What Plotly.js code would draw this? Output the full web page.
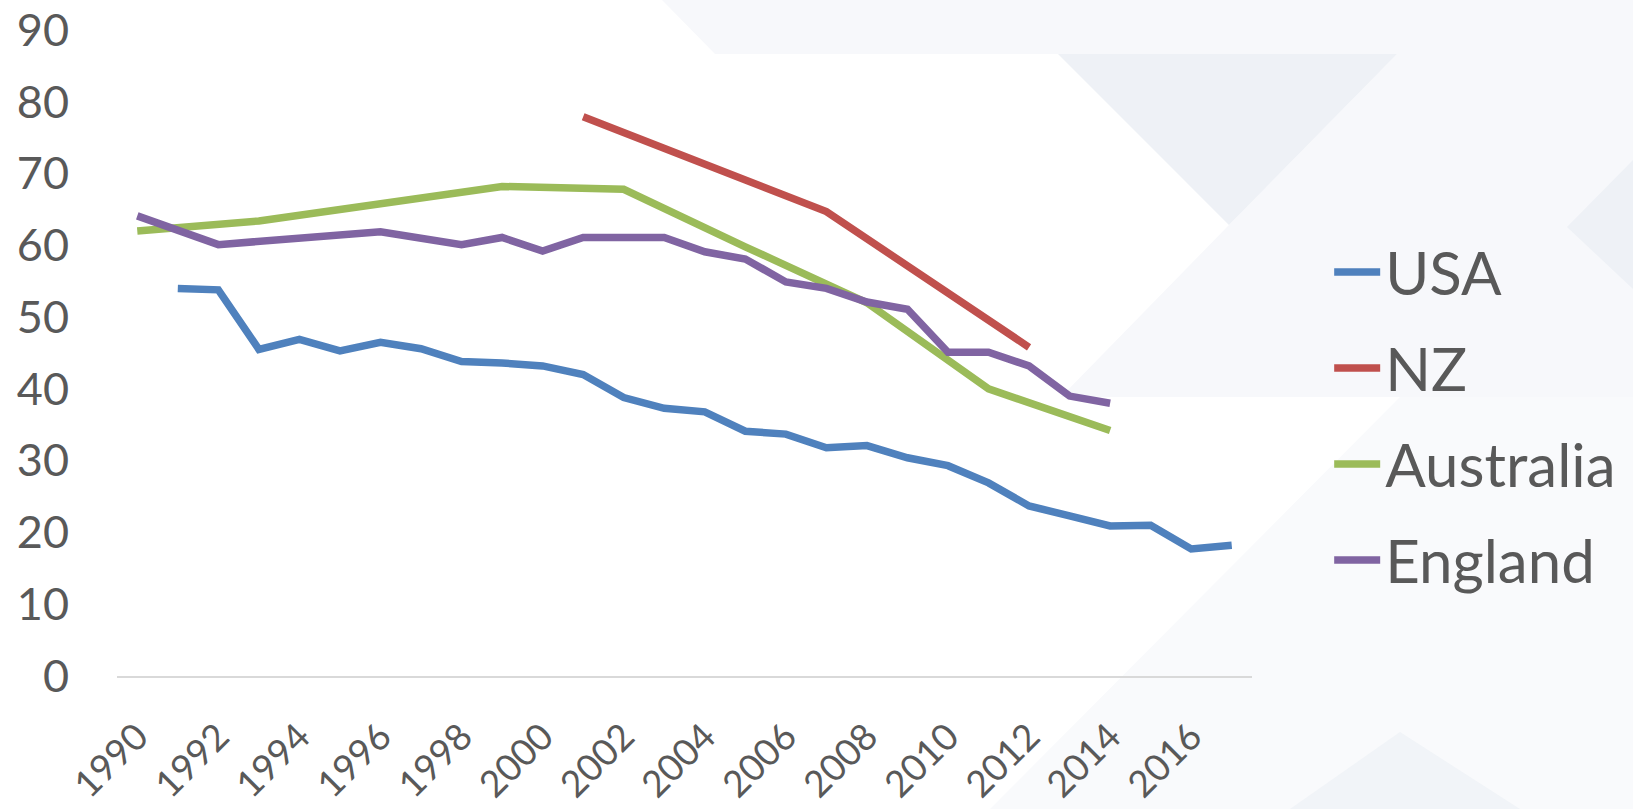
<!DOCTYPE html>
<html>
<head>
<meta charset="utf-8">
<script src="https://cdn.plot.ly/plotly-3.0.1.min.js"></script>
<style>
  html, body { margin: 0; padding: 0; background: #ffffff; }
  #chart { width: 1633px; height: 809px; }
</style>
</head>
<body>
<div id="chart"></div>
<script>
// ---- Data ----
const usaYears = [1991,1992,1993,1994,1995,1996,1997,1998,1999,2000,2001,2002,2003,2004,2005,2006,2007,2008,2009,2010,2011,2012,2013,2014,2015,2016,2017];
const usaValues = [54.0,53.8,45.5,46.9,45.3,46.5,45.6,43.8,43.6,43.2,42.0,38.8,37.3,36.8,34.1,33.7,31.8,32.1,30.4,29.3,26.9,23.7,22.3,20.9,21.0,17.7,18.2];

const nzYears = [2001,2007,2012];
const nzValues = [77.9,64.7,45.8];

const ausYears = [1990,1993,1999,2002,2005,2008,2011,2014];
const ausValues = [62.0,63.4,68.2,67.8,59.8,52.0,40.0,34.2];

const engYears = [1990,1992,1996,1998,1999,2000,2001,2002,2003,2004,2005,2006,2007,2008,2009,2010,2011,2012,2013,2014];
const engValues = [64.1,60.1,61.9,60.1,61.1,59.2,61.1,61.1,61.1,59.1,58.1,54.9,54.0,52.1,51.1,45.1,45.1,43.2,39.0,38.0];

const xTickVals = [1990,1992,1994,1996,1998,2000,2002,2004,2006,2008,2010,2012,2014,2016];
const xTickText = ['1990','1992','1994','1996','1998','2000','2002','2004','2006','2008','2010','2012','2014','2016'];
const yTickVals = [0,10,20,30,40,50,60,70,80,90];

const seriesNames = ['USA','NZ','Australia','England'];
const seriesColors = ['#4F81BD','#C0504D','#9BBB59','#8064A2'];

// ---- Layout geometry ----
const W = 1633, H = 809;
const M = {l: 117, r: 381, t: 30, b: 133};
const plotW = W - M.l - M.r, plotH = H - M.t - M.b;
function px(x, y) { return [(x - M.l) / plotW, (H - M.b - y) / plotH]; }
function poly(points, color) {
  const d = points.map((p, i) => { const q = px(p[0], p[1]); return (i ? 'L' : 'M') + q[0].toFixed(4) + ',' + q[1].toFixed(4); }).join(' ') + ' Z';
  return {type: 'path', xref: 'paper', yref: 'paper', path: d, fillcolor: color, line: {width: 0}, layer: 'below'};
}

// faint background decoration
const shapes = [
  poly([[662,0],[1633,0],[1633,54],[715,54]], '#f7f8fb'),
  poly([[1397,54],[1633,54],[1633,397],[1061,397],[1229,225]], '#f7f8fb'),
  poly([[1058,54],[1397,54],[1229,225]], '#eef1f6'),
  poly([[1567,227],[1633,160],[1633,289]], '#eef1f6'),
  poly([[1400,397],[1633,397],[1633,809],[990,809]], '#f9fafc'),
  poly([[1400,732],[1520,809],[1290,809]], '#f1f4f8')
];

const xs = [usaYears, nzYears, ausYears, engYears];
const ys = [usaValues, nzValues, ausValues, engValues];
const traces = seriesNames.map((name, i) => ({
  type: 'scatter', mode: 'lines', name: name,
  x: xs[i], y: ys[i],
  line: {color: seriesColors[i], width: 7.5, shape: 'linear'},
  legendgroup: 'g' + i,
  hoverinfo: 'skip'
}));

const textColor = '#595959';
const layout = {
  width: W, height: H,
  margin: M,
  paper_bgcolor: '#ffffff',
  plot_bgcolor: 'rgba(0,0,0,0)',
  font: {family: 'Lato, "Open Sans", sans-serif', color: textColor},
  showlegend: true,
  legend: {
    x: 1.068, xanchor: 'left', y: 0.696, yanchor: 'top',
    font: {size: 60, color: textColor, family: 'Lato, sans-serif'},
    bgcolor: 'rgba(0,0,0,0)', borderwidth: 0,
    tracegroupgap: 15, traceorder: 'grouped',
    itemwidth: 46
  },
  xaxis: {
    range: [1989.5, 2017.5],
    tickmode: 'array', tickvals: xTickVals, ticktext: xTickText,
    tickangle: -45,
    tickfont: {size: 37, color: textColor},
    showgrid: false, zeroline: false,
    showline: true, linecolor: '#d9d9d9', linewidth: 2,
    ticks: '', ticklabelstandoff: 22,
    ticklabeloverflow: 'allow'
  },
  yaxis: {
    range: [0, 90],
    tickmode: 'array', tickvals: yTickVals,
    tickfont: {size: 45, color: textColor},
    showgrid: false, zeroline: false, showline: false,
    ticks: '', ticklabelstandoff: 47,
    ticklabeloverflow: 'allow'
  },
  shapes: shapes
};

Plotly.newPlot('chart', traces, layout, {displayModeBar: false, staticPlot: true});
</script>
</body>
</html>
